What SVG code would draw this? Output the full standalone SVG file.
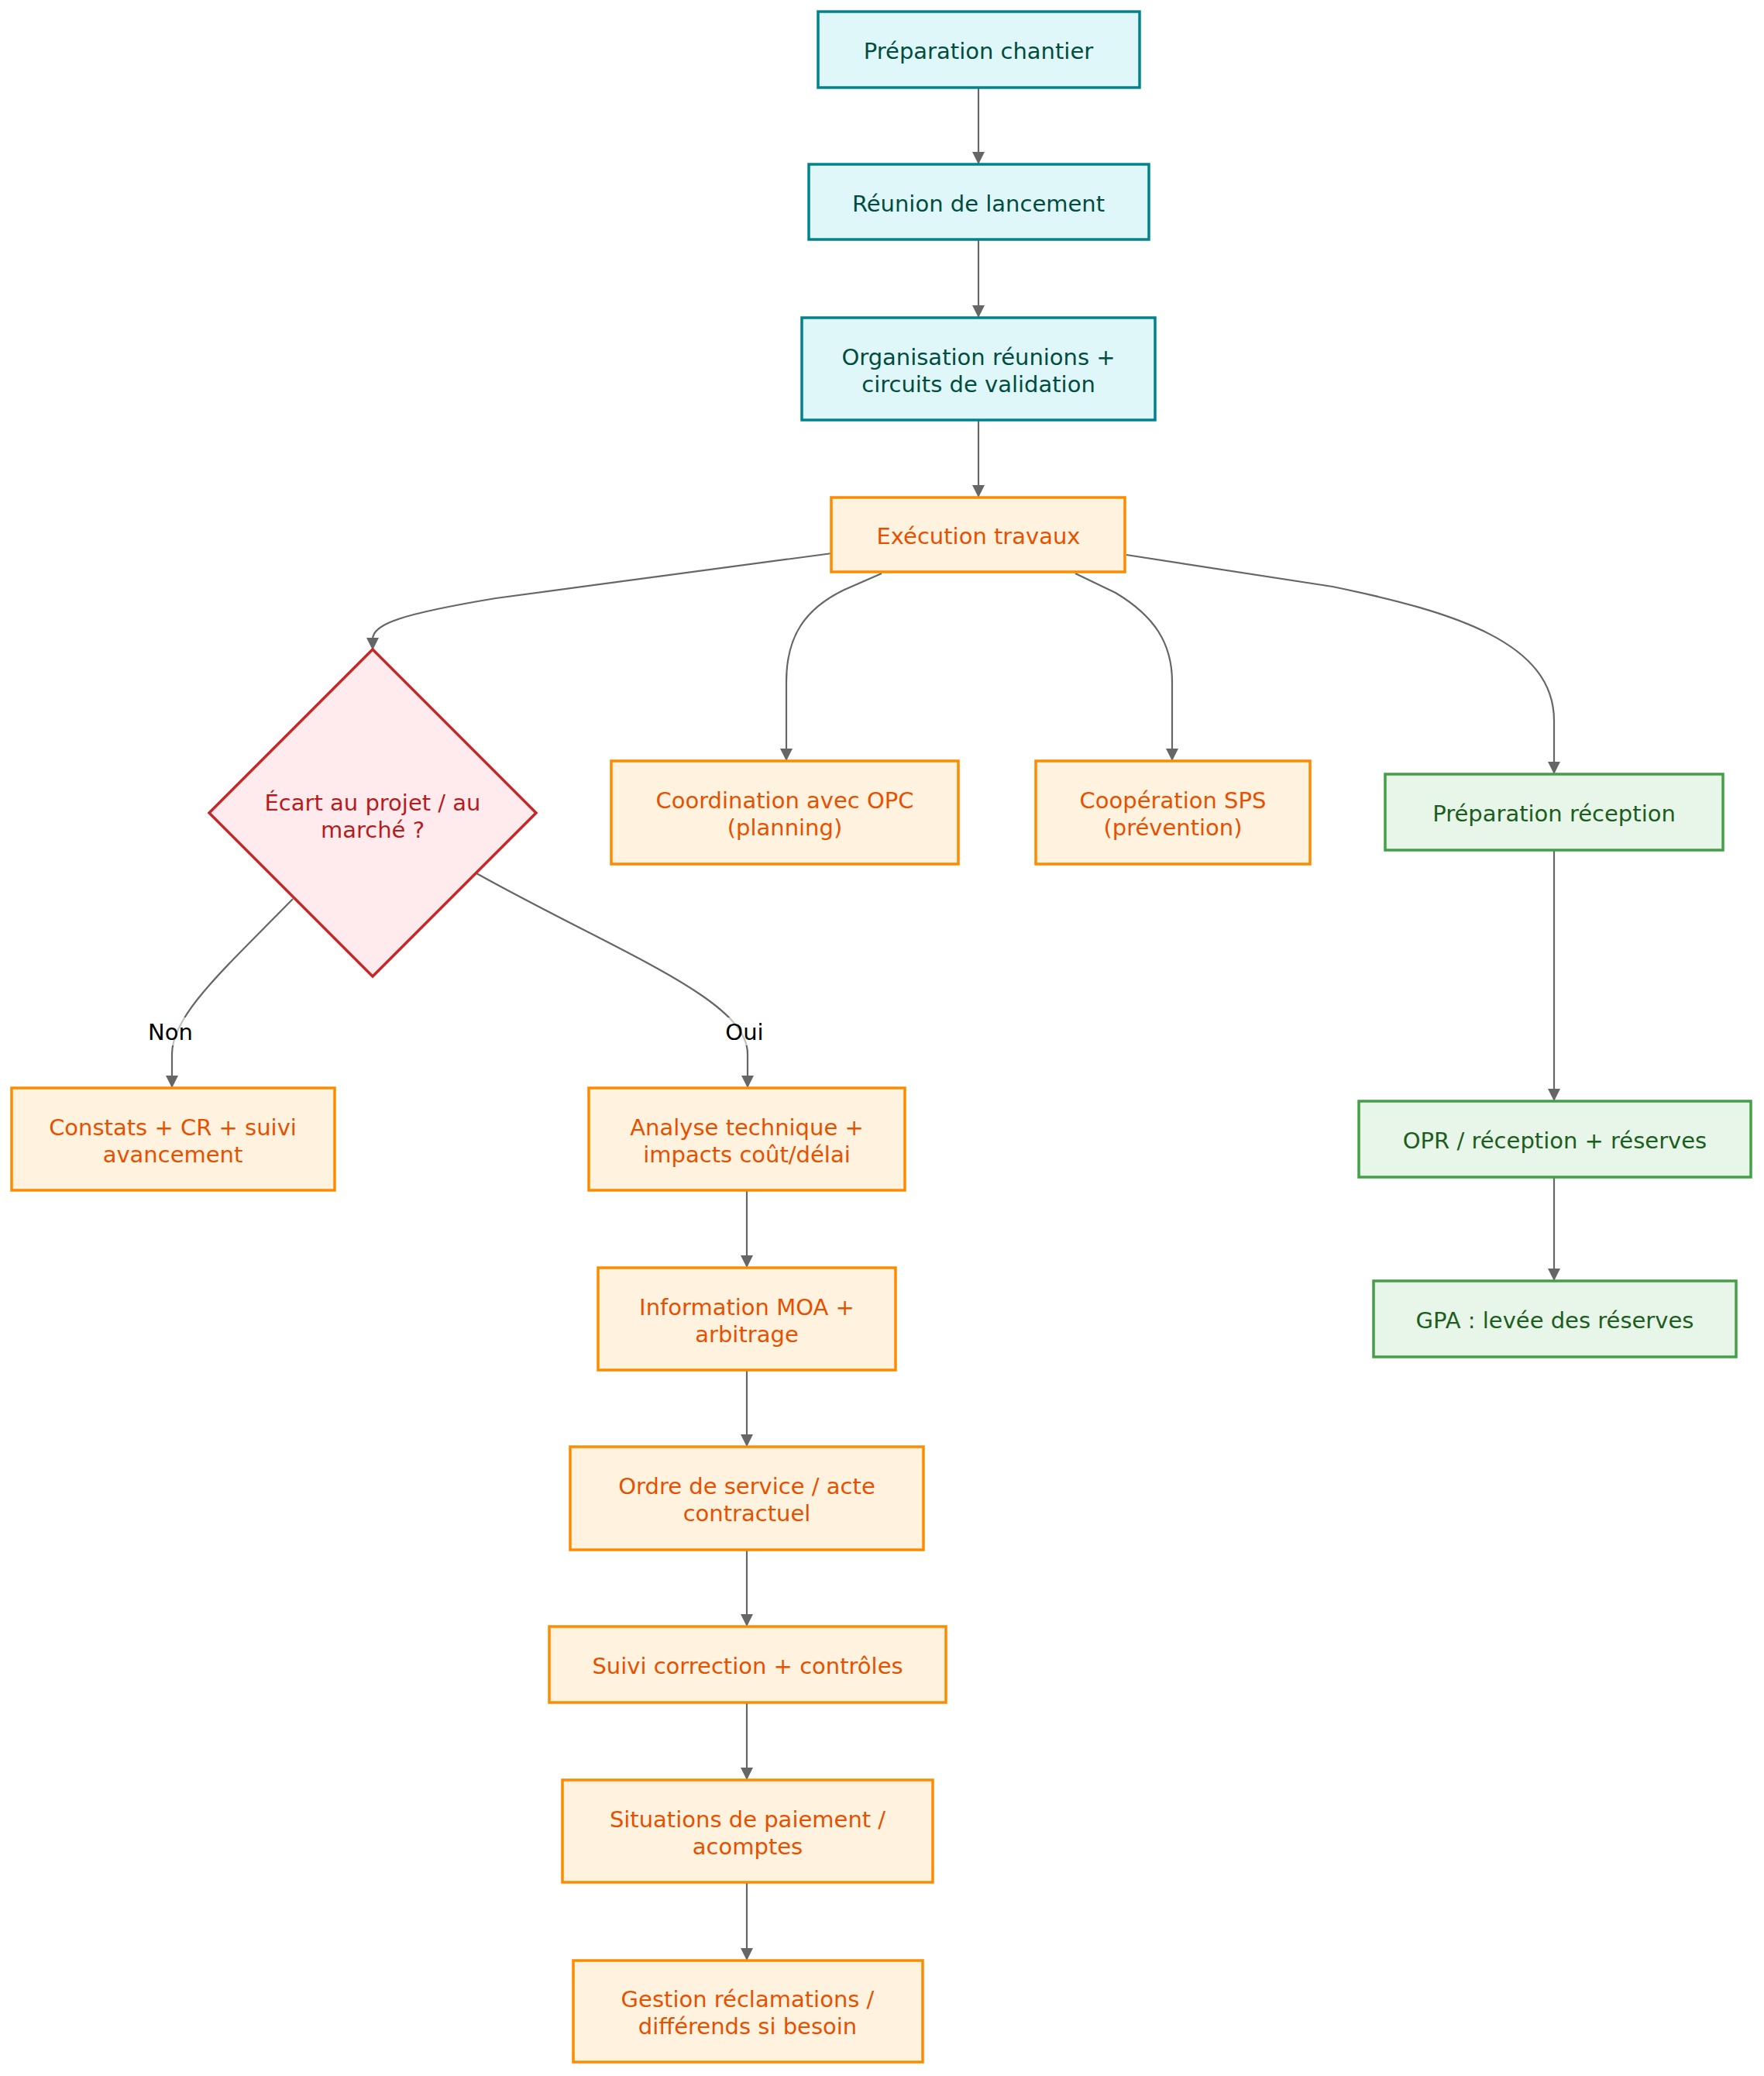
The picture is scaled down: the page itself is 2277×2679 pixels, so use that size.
<svg xmlns="http://www.w3.org/2000/svg" width="2277" height="2679" viewBox="0 0 2277 2679">
<defs>
<marker id="arr" viewBox="0 0 10 10" refX="10" refY="5" markerUnits="userSpaceOnUse" markerWidth="16" markerHeight="16" orient="auto">
<path d="M0,0 L10,5 L0,10 z" fill="#666666"/>
</marker>
<style>
text{font-family:"DejaVu Sans","Liberation Sans",sans-serif;font-size:29px;text-anchor:middle;}
.teal rect{fill:#E0F7FA;stroke:#00838F;stroke-width:3.5;}
.teal text{fill:#004D40;}
.org rect{fill:#FFF3E0;stroke:#FB8C00;stroke-width:3.5;}
.org text{fill:#E65100;}
.grn rect{fill:#E8F5E9;stroke:#43A047;stroke-width:3.5;}
.grn text{fill:#1B5E20;}
.dec polygon{fill:#FFEBEE;stroke:#C62828;stroke-width:3.5;}
.dec text{fill:#B71C1C;}
.edges path{fill:none;stroke:#666666;stroke-width:2.2;marker-end:url(#arr);}
.lbl rect{fill:#ffffff;opacity:0.6;}
.lbl text{fill:#000000;}
</style>
</defs>
<rect width="2277" height="2679" fill="#ffffff"/>
<g id="edges" class="edges">
<path d="M1263,113 L1263,212"/>
<path d="M1263,309 L1263,410"/>
<path d="M1263,542 L1263,642"/>
<path d="M1074,714 L640,772 C520,792 481,805 481,825 L481,839"/>
<path d="M1138,740 L1090,761 C1040,785 1015,820 1015,880 L1015,982"/>
<path d="M1388,740 L1440,765 C1490,795 1513,830 1513,880 L1513,982"/>
<path d="M1454,716 L1720,757 C1880,790 2006,830 2006,930 L2006,999"/>
<path d="M378,1160 C290,1250 222,1310 222,1360 L222,1404"/>
<path d="M615,1127 C800,1230 965,1290 965,1360 L965,1404"/>
<path d="M964,1536 L964,1636"/>
<path d="M964,1768 L964,1867"/>
<path d="M964,2000 L964,2099"/>
<path d="M964,2197 L964,2297"/>
<path d="M964,2429 L964,2530"/>
<path d="M2006,1097 L2006,1421"/>
<path d="M2006,1519 L2006,1653"/>
</g>
<g id="label-non" class="lbl"><rect x="191" y="1313" width="58" height="36"/><text x="220" y="1342">Non</text></g>
<g id="label-oui" class="lbl"><rect x="935" y="1313" width="52" height="36"/><text x="961" y="1342">Oui</text></g>
<g id="n1" class="teal"><rect x="1056" y="15" width="415" height="98"/><text x="1263" y="76">Préparation chantier</text></g>
<g id="n2" class="teal"><rect x="1044" y="212" width="439" height="97"/><text x="1263" y="273">Réunion de lancement</text></g>
<g id="n3" class="teal"><rect x="1035" y="410" width="456" height="132"/><text x="1263" y="471">Organisation réunions +</text><text x="1263" y="506">circuits de validation</text></g>
<g id="n4" class="org"><rect x="1073" y="642" width="379" height="96"/><text x="1263" y="702">Exécution travaux</text></g>
<g id="n5" class="dec"><polygon points="481,838 692,1049 481,1260 270,1049"/><text x="481" y="1046">Écart au projet / au</text><text x="481" y="1081">marché ?</text></g>
<g id="n6" class="org"><rect x="789" y="982" width="448" height="133"/><text x="1013" y="1043">Coordination avec OPC</text><text x="1013" y="1078">(planning)</text></g>
<g id="n7" class="org"><rect x="1337" y="982" width="354" height="133"/><text x="1514" y="1043">Coopération SPS</text><text x="1514" y="1078">(prévention)</text></g>
<g id="n8" class="grn"><rect x="1788" y="999" width="436" height="98"/><text x="2006" y="1060">Préparation réception</text></g>
<g id="n9" class="org"><rect x="15" y="1404" width="417" height="132"/><text x="223" y="1465">Constats + CR + suivi</text><text x="223" y="1500">avancement</text></g>
<g id="n10" class="org"><rect x="760" y="1404" width="408" height="132"/><text x="964" y="1465">Analyse technique +</text><text x="964" y="1500">impacts coût/délai</text></g>
<g id="n11" class="org"><rect x="772" y="1636" width="384" height="132"/><text x="964" y="1697">Information MOA +</text><text x="964" y="1732">arbitrage</text></g>
<g id="n12" class="org"><rect x="736" y="1867" width="456" height="133"/><text x="964" y="1928">Ordre de service / acte</text><text x="964" y="1963">contractuel</text></g>
<g id="n13" class="org"><rect x="709" y="2099" width="512" height="98"/><text x="965" y="2160">Suivi correction + contrôles</text></g>
<g id="n14" class="org"><rect x="726" y="2297" width="478" height="132"/><text x="965" y="2358">Situations de paiement /</text><text x="965" y="2393">acomptes</text></g>
<g id="n15" class="org"><rect x="740" y="2530" width="451" height="131"/><text x="965" y="2590">Gestion réclamations /</text><text x="965" y="2625">différends si besoin</text></g>
<g id="n16" class="grn"><rect x="1754" y="1421" width="506" height="98"/><text x="2007" y="1482">OPR / réception + réserves</text></g>
<g id="n17" class="grn"><rect x="1773" y="1653" width="468" height="98"/><text x="2007" y="1714">GPA : levée des réserves</text></g>
</svg>
